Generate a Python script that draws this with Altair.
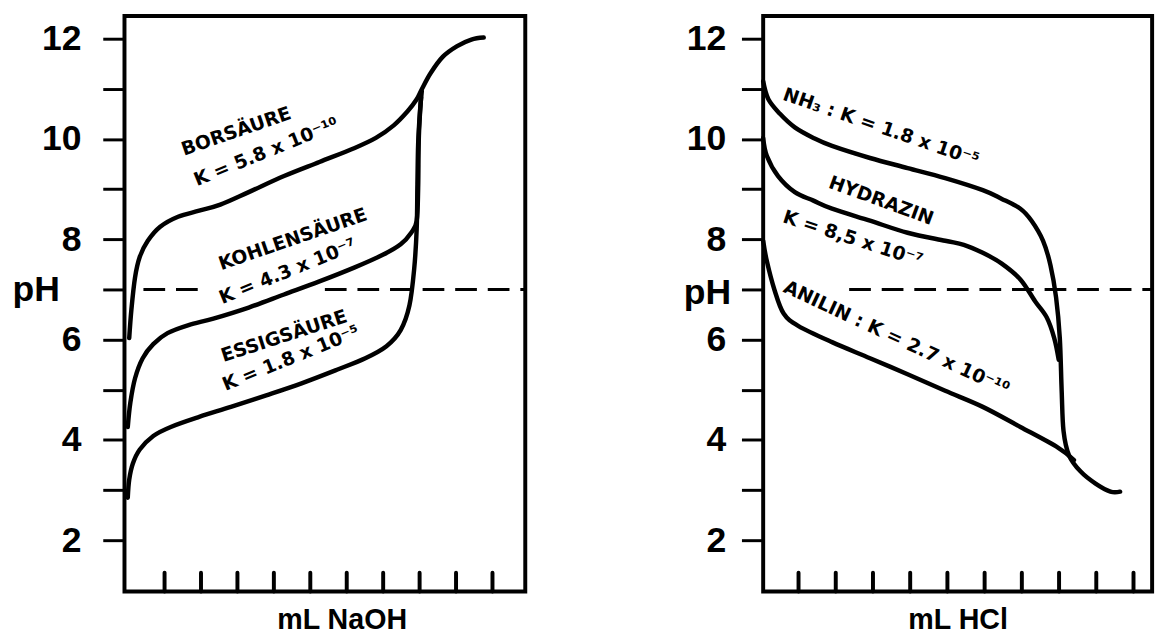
import altair as alt
import pandas as pd

# ---------------- data ----------------
# x = mL of titrant in tick units, ph = pH
# Left panel: weak acids titrated with NaOH
BOR_X = [0.03, 0.09, 0.19, 0.32, 0.54, 0.88, 1.37, 1.95, 2.53, 3.31, 4.28, 5.25, 6.22, 6.8, 7.29, 7.67, 7.92, 8.06, 8.3, 8.64, 9.03, 9.42, 9.76]
BOR_PH = [6.03, 6.6, 7.24, 7.65, 7.97, 8.25, 8.45, 8.57, 8.69, 8.94, 9.26, 9.54, 9.82, 10.02, 10.27, 10.55, 10.79, 10.99, 11.31, 11.64, 11.85, 11.98, 12.02]

KOH_X = [-0.01, 0.06, 0.19, 0.4, 0.69, 1.08, 1.66, 2.34, 3.31, 4.28, 5.25, 6.22, 6.99, 7.48, 7.77, 7.92, 7.96, 7.98, 8.04]
KOH_PH = [4.26, 4.74, 5.23, 5.63, 5.91, 6.13, 6.29, 6.42, 6.64, 6.9, 7.16, 7.44, 7.69, 7.9, 8.13, 8.37, 9.02, 10.06, 10.83]

ESS_X = [-0.01, 0.03, 0.13, 0.32, 0.69, 1.17, 1.95, 2.82, 3.79, 4.76, 5.73, 6.51, 7.09, 7.48, 7.72, 7.85, 7.92, 7.94, 7.96, 8.01, 8.06]
ESS_PH = [2.85, 3.21, 3.53, 3.81, 4.08, 4.26, 4.46, 4.66, 4.89, 5.13, 5.4, 5.63, 5.87, 6.19, 6.68, 7.4, 8.21, 9.1, 9.9, 10.55, 10.95]

# Right panel: weak bases titrated with HCl
NH3_X = [0.05, 0.19, 0.5, 0.9, 1.4, 1.9, 2.92, 3.93, 4.94, 5.95, 6.45, 6.96, 7.26, 7.57, 7.77, 7.92, 8.02, 8.07, 8.12, 8.27, 8.58, 8.98, 9.38, 9.64]
NH3_PH = [11.15, 10.79, 10.5, 10.23, 10.02, 9.86, 9.62, 9.42, 9.22, 8.98, 8.81, 8.61, 8.37, 7.97, 7.48, 6.84, 6.03, 4.98, 4.18, 3.69, 3.37, 3.13, 2.97, 2.97]

HYD_X = [0.05, 0.15, 0.45, 0.9, 1.4, 1.9, 2.92, 3.93, 4.94, 5.44, 5.95, 6.45, 6.96, 7.36, 7.67, 7.87, 7.99]
HYD_PH = [10.02, 9.66, 9.26, 8.94, 8.77, 8.61, 8.37, 8.13, 7.97, 7.89, 7.73, 7.52, 7.2, 6.76, 6.44, 6.03, 5.6]

ANI_X = [0.05, 0.15, 0.35, 0.6, 1.0, 1.9, 2.92, 3.93, 4.94, 5.95, 6.96, 7.97, 8.4]
ANI_PH = [7.97, 7.56, 7.0, 6.52, 6.27, 5.95, 5.63, 5.31, 4.98, 4.66, 4.26, 3.85, 3.6]

# curve labels
LEFT_TEXT = ["BORSÄURE", "K = 5.8 x 10⁻¹⁰", "KOHLENSÄURE", "K = 4.3 x 10⁻⁷", "ESSIGSÄURE", "K = 1.8 x 10⁻⁵"]
LEFT_TX = [2.97, 3.79, 4.52, 4.38, 4.28, 4.47]
LEFT_TY = [10.15, 9.74, 8.0, 7.36, 6.07, 5.63]
LEFT_ANG = [341, 338, 341, 338, 342, 338]

RIGHT_TEXT = ["NH₃ : K = 1.8 x 10⁻⁵", "HYDRAZIN", "K =  8,5 x 10⁻⁷", "ANILIN : K = 2.7 x 10⁻¹⁰"]
RIGHT_TX = [3.22, 3.22, 2.46, 3.63]
RIGHT_TY = [10.23, 8.77, 8.01, 6.03]
RIGHT_ANG = [19, 20, 18, 25]

# axes
PH_TICKS = [2, 3, 4, 5, 6, 7, 8, 9, 10, 11, 12]
VOL_TICKS = [1, 2, 3, 4, 5, 6, 7, 8, 9, 10]
NEUTRAL_PH = 7
LEFT_DASH_X = [0.42, 5.4]
LEFT_DASH_X2 = [1.95, 10.9]
RIGHT_DASH_X = [2.36]
RIGHT_DASH_X2 = [10.5]

# ---------------- chart ----------------
YDOM = [0.98, 12.45]
H = 583
AX_FONT = "Liberation Sans"
TX_FONT = "DejaVu Sans"


def curves_df(pairs):
    rows = []
    for name, xs, ys in pairs:
        for i, (x, y) in enumerate(zip(xs, ys)):
            rows.append({"curve": name, "i": i, "x": x, "ph": y})
    return pd.DataFrame(rows)


def panel(curves, texts, tx, ty, ang, dx, dx2, xdom, width, xtitle, xtitle_x,
          ph_title_x, ph_title_y, tick_size, label_pad):
    xs = alt.Scale(domain=xdom, nice=False, zero=False)
    ys = alt.Scale(domain=YDOM, nice=False, zero=False)
    yaxis = alt.Axis(
        values=PH_TICKS,
        labelExpr="datum.value % 2 == 0 ? datum.label : ''",
        labelFont=AX_FONT, labelFontSize=36, labelFontWeight="bold", labelColor="black",
        labelPadding=label_pad, tickSize=tick_size, tickWidth=3, tickColor="black",
        domain=False, grid=False,
        title="pH", titleAngle=0, titleFont=AX_FONT, titleFontSize=36, titleFontWeight="bold",
        titleColor="black", titleX=ph_title_x, titleY=ph_title_y, titleAlign="left",
        titleBaseline="alphabetic",
    )
    xaxis_kw = dict(labels=False, ticks=False, domain=False, grid=False, title=xtitle,
                    titleFont=AX_FONT, titleFontSize=29, titleFontWeight="bold",
                    titleColor="black", titlePadding=14)
    if xtitle_x is not None:
        xaxis_kw["titleX"] = xtitle_x
    xaxis = alt.Axis(**xaxis_kw)

    X = lambda f: alt.X(f, scale=xs, axis=xaxis)
    Y = lambda f: alt.Y(f, scale=ys, axis=yaxis)

    lines = alt.Chart(curves).mark_line(
        color="black", strokeWidth=4.5, interpolate="cardinal", strokeCap="round", strokeJoin="round"
    ).encode(
        x=X("x:Q"), y=Y("ph:Q"),
        detail="curve:N",
        order="i:Q",
    )

    dash_df = pd.DataFrame({"x": dx, "x2": dx2, "ph": [NEUTRAL_PH] * len(dx)})
    dash = alt.Chart(dash_df).mark_rule(color="black", strokeWidth=3, strokeDash=[22, 11]).encode(
        x=X("x:Q"), x2="x2:Q", y=Y("ph:Q"),
    )

    ticks = alt.Chart(pd.DataFrame({"x": VOL_TICKS})).mark_rule(
        color="black", strokeWidth=4, strokeCap="round"
    ).encode(
        x=X("x:Q"),
        y=alt.value(H), y2=alt.value(H - 19),
    )

    lab_df = pd.DataFrame({"t": texts, "x": tx, "ph": ty, "a": ang})
    labels = alt.Chart(lab_df).mark_text(
        font=TX_FONT, fontSize=19, fontWeight="bold", color="black", align="center", baseline="middle"
    ).encode(
        x=X("x:Q"), y=Y("ph:Q"),
        text="t:N",
        angle=alt.Angle("a:Q", scale=None),
    )

    return alt.layer(lines, dash, ticks, labels).properties(width=width, height=H)


left_curves = curves_df([("bor", BOR_X, BOR_PH), ("koh", KOH_X, KOH_PH), ("ess", ESS_X, ESS_PH)])
right_curves = curves_df([("nh3", NH3_X, NH3_PH), ("hyd", HYD_X, HYD_PH), ("ani", ANI_X, ANI_PH)])

left = panel(left_curves, LEFT_TEXT, LEFT_TX, LEFT_TY, LEFT_ANG, LEFT_DASH_X, LEFT_DASH_X2,
             [-0.1, 10.9], 406, "mL NaOH", 220, -114, 288, 22, 22)
right = panel(right_curves, RIGHT_TEXT, RIGHT_TX, RIGHT_TY, RIGHT_ANG, RIGHT_DASH_X, RIGHT_DASH_X2,
              [0.05, 10.5], 394, "mL HCl", None, -81, 291, 22, 16)

chart = alt.hconcat(left, right, spacing=154).properties(
    padding={"left": 2, "top": 2, "right": 5, "bottom": 0},
    background="white",
).configure_view(stroke="black", strokeWidth=4)

chart.save("out.html", embed_options={"renderer": "svg", "actions": False})
